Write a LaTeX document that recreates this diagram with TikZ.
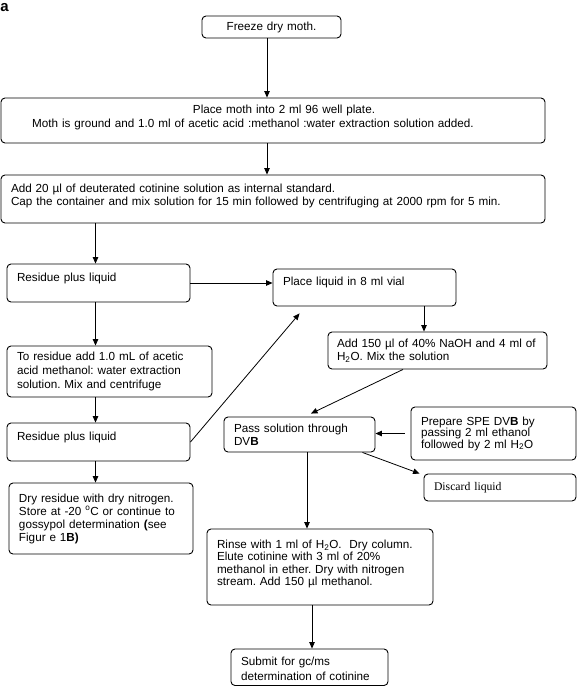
\documentclass[tikz,border=0pt]{standalone}
\usepackage{fontspec}
\setmainfont{Liberation Sans}
\newfontfamily\discardfont{Liberation Serif}
\usetikzlibrary{positioning,arrows.meta,calc}
\frenchspacing

\tikzset{
  stepbox/.style={draw, rounded corners=4pt, line width=0.9pt, inner xsep=10pt, inner ysep=2pt, align=left},
}

\begin{document}
\begin{tikzpicture}[x=1pt, y=-1pt, line width=0.8pt, >={Triangle[length=6.5pt,width=5.5pt]}, font=\fontsize{11.7}{13}\selectfont]

  \useasboundingbox (0,0) rectangle (577,686);

  \node[anchor=base west, inner sep=0pt, font=\fontsize{15}{15}\selectfont\bfseries] (fig) at (0,11) {a};

  \node[stepbox, align=center, text width=119pt, minimum height=22pt] (s1) at (271.5,27) {Freeze dry moth.};
  \node[stepbox, align=center, text width=524pt, minimum height=45pt, text depth=22.5pt, font=\fontsize{11.7}{14}\selectfont] (s2) at (273,120.5) {\hspace*{22pt}Place moth into 2 ml 96 well plate.\\\hspace*{-40pt}Moth is ground and 1.0 ml of acetic acid :methanol :water extraction solution added.};
  \node[stepbox, text width=524pt, minimum height=48pt, text depth=21.5pt] (s3) at (273,199) {Add 20 µl of deuterated cotinine solution as internal standard.\\Cap the container and mix solution for 15 min followed by centrifuging at 2000 rpm for 5 min.};
  \node[stepbox, text width=163pt, minimum height=38pt, text depth=11.5pt] (s4) at (98.5,283) {Residue plus liquid};
  \node[stepbox, text width=163pt, minimum height=37pt, text depth=11.5pt] (s5) at (364.5,287.5) {Place liquid in 8 ml vial};
  \node[stepbox, inner xsep=9pt, text width=201pt, minimum height=37pt] (s6) at (437.5,350.5) {Add 150 µl of 40\% NaOH and 4 ml of\\H\textsubscript{2}O. Mix the solution};
  \node[stepbox, text width=185pt, minimum height=51pt, font=\fontsize{11.7}{14}\selectfont] (s7) at (109.5,371.5) {To residue add 1.0 mL of acetic\\acid methanol: water extraction\\solution. Mix and centrifuge};
  \node[stepbox, text width=163pt, minimum height=38pt, text depth=11.5pt] (s8) at (98.5,442) {Residue plus liquid};
  \node[stepbox, text width=164pt, minimum height=71pt] (s9) at (101,518.5) {Dry residue with dry nitrogen.\\Store at -20 \textsuperscript{o}C or continue to\\gossypol determination \textbf{(}see\\Figur e 1\textbf{B)}};
  \node[stepbox, text width=131pt, minimum height=35pt] (s10) at (299.5,434.5) {Pass solution through\\DV\textbf{B}};
  \node[stepbox, text width=145pt, minimum height=53pt, font=\fontsize{11.7}{11.5}\selectfont] (s11) at (493.5,433.5) {Prepare SPE DV\textbf{B} by\\passing 2 ml ethanol\\followed by 2 ml H\textsubscript{2}O};
  \node[stepbox, text width=132pt, minimum height=27pt, font=\fontsize{11.7}{13}\discardfont] (s12) at (500,487.5) {Discard liquid};
  \node[stepbox, text width=206pt, minimum height=76pt, text depth=45.5pt, font=\fontsize{11.7}{12.3}\selectfont] (s13) at (320,567) {Rinse with 1 ml of H\textsubscript{2}O.\ \ Dry column.\\Elute cotinine with 3 ml of 20\%\\methanol in ether. Dry with nitrogen\\stream. Add 150 µl methanol.};
  \node[stepbox, text width=137pt, minimum height=36.5pt, text depth=12pt, font=\fontsize{11.7}{15}\selectfont] (s14) at (309.5,667.25) {Submit for gc/ms\\determination of cotinine};

  % vertical lanes
  \coordinate (c1) at (267,0);
  \coordinate (c2) at (95.5,0);
  \coordinate (c3) at (424,0);
  \coordinate (c4) at (307,0);
  \coordinate (c5) at (312,0);

  \path[->] (c1 |- s1.south) edge (c1 |- s2.north);
  \path[->] (c1 |- s2.south) edge (c1 |- s3.north);
  \path[->] (c2 |- s3.south) edge (c2 |- s4.north);
  \path[->] (s4.east) edge (s4.east -| s5.west);
  \path[->] (c2 |- s4.south) edge (c2 |- s7.north);
  \path[->] (c3 |- s5.south) edge (c3 |- s6.north);
  \path[->] ([xshift=-34.5pt]s6.south) edge ([xshift=11.5pt,yshift=3pt]s10.north);
  \path[->] (c2 |- s7.south) edge (c2 |- s8.north);
  \path[->] (s8.east) edge ([xshift=27pt,yshift=-7pt]s5.south west);
  \path[->] (c2 |- s8.south) edge (c2 |- s9.north);
  \path[->] ([xshift=-6pt]s11.west) edge (s11.west -| s10.east);
  \path[->] ([xshift=-13pt]s10.south east) edge ([xshift=-4pt]s12.north west);
  \path[->] (c4 |- s10.south) edge (c4 |- s13.north);
  \path[->] (c5 |- s13.south) edge (c5 |- s14.north);

\end{tikzpicture}
\end{document}
